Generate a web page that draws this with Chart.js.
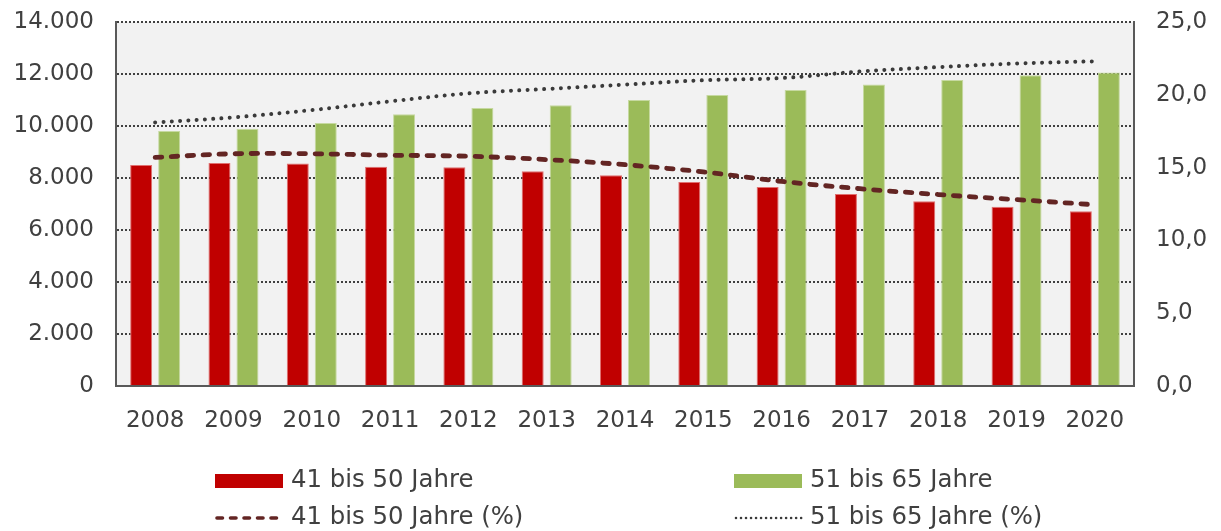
<!DOCTYPE html>
<html>
<head>
<meta charset="utf-8">
<script src="https://cdn.jsdelivr.net/npm/chart.js@4/dist/chart.umd.min.js"></script>
<style>
html,body{margin:0;padding:0;background:#fff;}
#wrap{width:1221px;height:531px;position:relative;}
</style>
</head>
<body>
<div id="wrap"><canvas id="c" width="1221" height="531"></canvas></div>
<script>
const years = ['2008','2009','2010','2011','2012','2013','2014','2015','2016','2017','2018','2019','2020'];
const age41to50 = [8500, 8580, 8560, 8430, 8410, 8260, 8110, 7850, 7650, 7380, 7110, 6890, 6720];
const age51to65 = [9810, 9890, 10120, 10450, 10690, 10800, 11000, 11190, 11380, 11600, 11770, 11950, 12060];
const pct41to50 = [15.7, 15.95, 15.95, 15.85, 15.78, 15.55, 15.2, 14.7, 14.05, 13.55, 13.15, 12.8, 12.45];
const pct51to65 = [18.1, 18.45, 18.95, 19.55, 20.1, 20.4, 20.7, 21.0, 21.15, 21.6, 21.9, 22.15, 22.3];
const leftTicks = [0, 2000, 4000, 6000, 8000, 10000, 12000, 14000];
const rightTicks = [0, 5, 10, 15, 20, 25];
const seriesNames = ['41 bis 50 Jahre', '51 bis 65 Jahre', '41 bis 50 Jahre (%)', '51 bis 65 Jahre (%)'];

const FONT = 'DejaVu Sans';
const TXT = '#404040';

const bgPlugin = {
  id: 'plotBg',
  beforeDraw(chart) {
    const {ctx, chartArea: a} = chart;
    ctx.save();
    ctx.fillStyle = '#f2f2f2';
    ctx.fillRect(a.left, a.top, a.right - a.left, a.bottom - a.top);
    ctx.restore();
  }
};

const legendPlugin = {
  id: 'customLegend',
  afterDraw(chart, args, opts) {
    const {ctx} = chart;
    const ds = chart.data.datasets;
    ctx.save();
    ctx.font = opts.fontSize + 'px "' + FONT + '"';
    ctx.fillStyle = TXT;
    ctx.textBaseline = 'middle';
    opts.items.forEach((it) => {
      const d = ds[it.ds];
      const x0 = it.x, x1 = it.x + opts.swatchW, y = it.y;
      if (d.type === 'bar') {
        ctx.fillStyle = d.backgroundColor;
        ctx.fillRect(x0, y - opts.swatchH / 2, opts.swatchW, opts.swatchH);
      } else {
        ctx.strokeStyle = d.borderColor;
        ctx.lineWidth = d.legendWidth || d.borderWidth;
        ctx.lineCap = 'round';
        ctx.setLineDash(d.legendDash || d.borderDash);
        ctx.beginPath();
        ctx.moveTo(x0 + 2, y);
        ctx.lineTo(x1, y);
        ctx.stroke();
        ctx.setLineDash([]);
      }
      ctx.fillStyle = TXT;
      ctx.textAlign = 'left';
      ctx.fillText(d.label, x1 + opts.textGap, y);
    });
    ctx.restore();
  }
};

function fitVertical(width) {
  return function (s) { s.width = width; s.paddingTop = 0; s.paddingBottom = 0; };
}

new Chart(document.getElementById('c'), {
  data: {
    labels: years,
    datasets: [
      {type: 'line', label: seriesNames[2], data: pct41to50, yAxisID: 'y2', order: 0,
       borderColor: '#632523', borderWidth: 4.8, borderDash: [6.5, 9.5], borderCapStyle: 'round',
       legendDash: [5.5, 8], legendWidth: 3.6,
       pointRadius: 0, tension: 0.35, fill: false},
      {type: 'line', label: seriesNames[3], data: pct51to65, yAxisID: 'y2', order: 0,
       borderColor: '#3a3a3a', borderWidth: 4, borderDash: [0.01, 8.3], borderCapStyle: 'round',
       legendDash: [0.01, 5], legendWidth: 2.6,
       pointRadius: 0, tension: 0.35, fill: false},
      {type: 'bar', label: seriesNames[0], data: age41to50, yAxisID: 'y', order: 1,
       backgroundColor: '#c00000', borderColor: '#e07070', borderWidth: 1,
       categoryPercentage: 0.715, barPercentage: 0.786},
      {type: 'bar', label: seriesNames[1], data: age51to65, yAxisID: 'y', order: 1,
       backgroundColor: '#9bbb59', borderColor: '#c6d9a0', borderWidth: 1,
       categoryPercentage: 0.715, barPercentage: 0.786}
    ]
  },
  options: {
    responsive: false,
    animation: false,
    devicePixelRatio: 1,
    layout: {padding: {top: 22, left: 0, right: 0, bottom: 0}},
    plugins: {
      legend: {display: false},
      tooltip: {enabled: false},
      customLegend: {
        fontSize: 24.4, swatchW: 68, swatchH: 14, textGap: 8,
        items: [
          {ds: 2, x: 215, y: 481},
          {ds: 3, x: 734, y: 481},
          {ds: 0, x: 215, y: 518},
          {ds: 1, x: 734, y: 518}
        ]
      }
    },
    scales: {
      x: {
        type: 'category',
        grid: {display: false, drawTicks: false},
        border: {display: true, color: '#595959', width: 2},
        ticks: {color: TXT, font: {family: FONT, size: 23}, padding: 21, maxRotation: 0, autoSkip: false},
        afterFit(s) { s.height = 531 - 386; s.paddingLeft = 0; s.paddingRight = 0; }
      },
      y: {
        position: 'left', min: 0, max: 14000,
        afterBuildTicks(s) { s.ticks = leftTicks.map(v => ({value: v})); },
        afterFit: fitVertical(116),
        grid: {color: '#404040', lineWidth: 2, drawTicks: false},
        border: {display: true, color: '#595959', width: 2, dash: [2, 2]},
        ticks: {color: TXT, font: {family: FONT, size: 23}, padding: 22,
                callback: v => v.toLocaleString('de-DE')}
      },
      y2: {
        position: 'right', min: 0, max: 25,
        afterBuildTicks(s) { s.ticks = rightTicks.map(v => ({value: v})); },
        afterFit: fitVertical(1221 - 1134),
        grid: {display: false, drawTicks: false},
        border: {display: true, color: '#595959', width: 2},
        ticks: {color: TXT, font: {family: FONT, size: 23}, padding: 22,
                callback: v => v.toLocaleString('de-DE', {minimumFractionDigits: 1, maximumFractionDigits: 1})}
      }
    }
  },
  plugins: [bgPlugin, legendPlugin]
});
</script>
</body>
</html>
